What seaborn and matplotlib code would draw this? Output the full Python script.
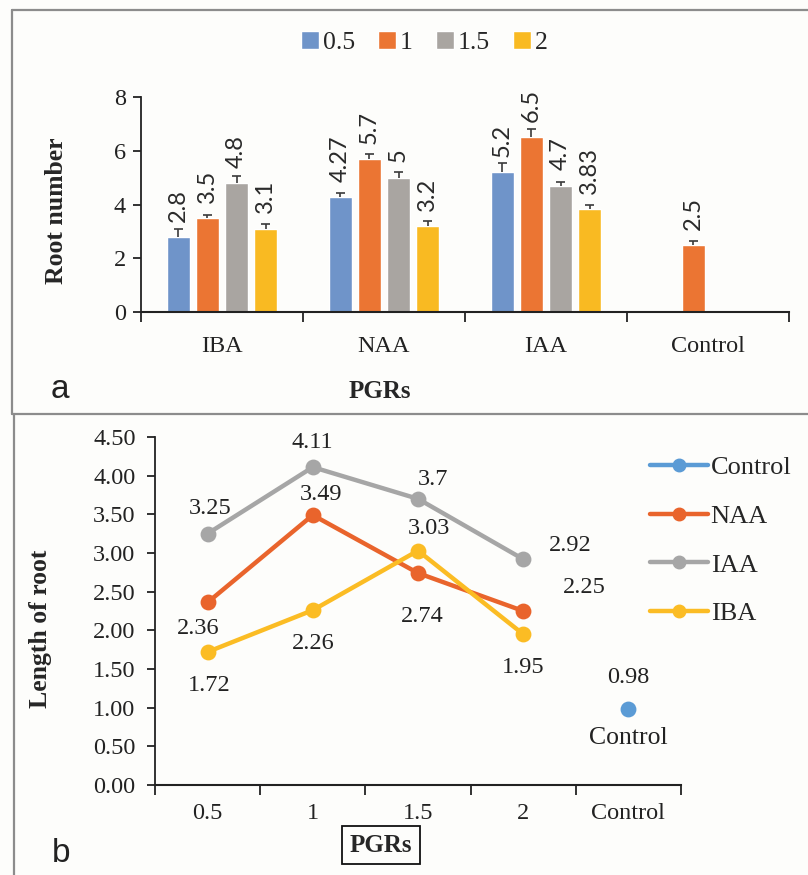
import numpy as np
import pandas as pd
import matplotlib.pyplot as plt
from matplotlib.lines import Line2D
from matplotlib.patches import Patch
import seaborn as sns

# ---- data: panel a (root number) ----
pgrs_a = ["IBA", "NAA", "IAA", "Control"]
conc_levels = ["0.5", "1", "1.5", "2"]
root_iba = [2.8, 3.5, 4.8, 3.1]
root_naa = [4.27, 5.7, 5.0, 3.2]
root_iaa = [5.2, 6.5, 4.7, 3.83]
root_control = [np.nan, 2.5, np.nan, np.nan]
err_iba = [0.3, 0.12, 0.27, 0.18]
err_naa = [0.17, 0.17, 0.22, 0.2]
err_iaa = [0.33, 0.3, 0.12, 0.15]
err_control = [np.nan, 0.13, np.nan, np.nan]

# ---- data: panel b (length of root) ----
conc_b = ["0.5", "1", "1.5", "2", "Control"]
len_naa = [2.36, 3.49, 2.74, 2.25]
len_iaa = [3.25, 4.11, 3.7, 2.92]
len_iba = [1.72, 2.26, 3.03, 1.95]
len_control = [0.98]

bar_colors = ["#6F94C9", "#EB7533", "#A9A5A1", "#F9BA22"]
line_colors = {"Control": "#5B9BD5", "NAA": "#E9642C", "IAA": "#A6A6A6", "IBA": "#FBBC24"}

sns.set_style("ticks")
plt.rcParams["font.family"] = ["Liberation Serif", "DejaVu Serif"]
plt.rcParams["axes.edgecolor"] = "#222222"
plt.rcParams["xtick.color"] = "#222222"
plt.rcParams["ytick.color"] = "#222222"

fig = plt.figure(figsize=(8.08, 8.75), dpi=100)
fig.patch.set_facecolor("#FDFDFB")

# long tables
rows = []
for pgr, vals, errs in zip(pgrs_a, [root_iba, root_naa, root_iaa, root_control],
                           [err_iba, err_naa, err_iaa, err_control]):
    for c, v, e in zip(conc_levels, vals, errs):
        if not np.isnan(v):
            rows.append({"PGR": pgr, "conc": c, "roots": v, "err": e})
df_a = pd.DataFrame(rows)

rows = []
for name, vals in [("NAA", len_naa), ("IAA", len_iaa), ("IBA", len_iba)]:
    for c, v in zip(conc_b[:4], vals):
        rows.append({"series": name, "conc": c, "length": v})
rows.append({"series": "Control", "conc": "Control", "length": len_control[0]})
df_b = pd.DataFrame(rows)

# ================= panel a =================
ax1 = fig.add_axes([0.1745, 0.6434, 0.802, 0.2457])
ax1.set_facecolor("none")
sns.barplot(data=df_a, x="PGR", y="roots", hue="conc", order=pgrs_a,
            hue_order=conc_levels, palette=bar_colors, width=0.72, gap=0.22,
            errorbar=None, legend=False, ax=ax1, saturation=1)

cap = 0.027
for cont, c in zip(ax1.containers, conc_levels):
    sub = df_a[df_a["conc"] == c].copy()
    sub["pos"] = sub["PGR"].map({p: i for i, p in enumerate(pgrs_a)})
    sub = sub.sort_values("pos")
    xs = np.array([b.get_x() + b.get_width() / 2 for b in cont])
    hs = np.array([b.get_height() for b in cont])
    tops = hs + sub["err"].values
    # upper error bars only, as in the original
    ax1.vlines(xs, hs, tops, color="#3A3A3A", lw=1.2, zorder=3)
    ax1.hlines(tops, xs - cap, xs + cap, color="#3A3A3A", lw=1.2, zorder=3)
    ax1.bar_label(cont, labels=[f"{v:g}" for v in sub["roots"]], padding=11,
                  rotation=90, fontsize=17, family="Lato", color="#2A2A2A")

ax1.set_ylim(0, 8)
ax1.set_yticks([0, 2, 4, 6, 8])
ax1.set_xlim(-0.5, 3.5)
ax1.set_xticks(range(4))
ax1.set_xticklabels(pgrs_a)
ax1.set_xticks(np.arange(-0.5, 4.0, 1.0), minor=True)
ax1.tick_params(axis="x", which="major", length=0, pad=17, labelsize=17.5)
ax1.tick_params(axis="x", which="minor", length=7, width=1.3, direction="out")
ax1.tick_params(axis="y", length=6, width=1.3, labelsize=17.5, pad=5)
ax1.set_xlabel("")
ax1.set_ylabel("Root number", fontsize=18.5, fontweight="bold")
ax1.yaxis.set_label_coords(-0.112, 0.47)
for s in ["top", "right"]:
    ax1.spines[s].set_visible(False)
ax1.spines["left"].set_linewidth(1.3)
ax1.spines["bottom"].set_linewidth(1.5)

leg_handles = [Patch(facecolor=col, label=c) for col, c in zip(bar_colors, conc_levels)]
fig.legend(handles=leg_handles, loc="center", bbox_to_anchor=(0.525, 0.951), ncol=4,
           frameon=False, fontsize=18.5, handlelength=0.7, handleheight=0.7,
           handletextpad=0.15, columnspacing=0.9)

fig.text(380 / 808, 1 - 392 / 875, "PGRs", ha="center", va="center",
         fontsize=18, fontweight="bold")
fig.text(60 / 808, 1 - 389 / 875, "a", ha="center", va="center",
         fontsize=24, family="Liberation Sans", color="#222222")

# ================= panel b =================
ax2 = fig.add_axes([0.1918, 0.1029, 0.651, 0.3977])
ax2.set_facecolor("none")
sns.pointplot(data=df_b, x="conc", y="length", hue="series", order=conc_b,
              hue_order=["Control", "NAA", "IAA", "IBA"], palette=line_colors,
              markers="o", linestyles="-", errorbar=None, markersize=9,
              linewidth=3.2, legend=False, ax=ax2)

ax2.set_ylim(0, 4.5)
ax2.set_yticks(np.arange(0, 4.51, 0.5))
ax2.yaxis.set_major_formatter(plt.FormatStrFormatter("%.2f"))
ax2.set_xlim(-0.5, 4.5)
ax2.set_xticks(range(5))
ax2.set_xticklabels(conc_b)
ax2.set_xticks(np.arange(-0.5, 5.0, 1.0), minor=True)
ax2.tick_params(axis="x", which="major", length=0, pad=13, labelsize=17.5)
ax2.tick_params(axis="x", which="minor", length=7, width=1.3, direction="out")
ax2.tick_params(axis="y", length=6, width=1.3, labelsize=17.5, pad=8)
ax2.set_xlabel("")
ax2.set_ylabel("Length of root", fontsize=18.5, fontweight="bold")
ax2.yaxis.set_label_coords(-0.195, 0.45)
for s in ["top", "right"]:
    ax2.spines[s].set_visible(False)
ax2.spines["left"].set_linewidth(1.3)
ax2.spines["bottom"].set_linewidth(1.5)

# data labels (offsets in points)
label_offsets = {
    "IAA": [(2, 18), (0, 18), (11, 14), (34, 10)],
    "NAA": [(-7, -19), (6, 15), (3, -31), (44, 17)],
    "IBA": [(1, -24), (0, -24), (8, 16), (0, -24)],
}
for name, vals in [("IAA", len_iaa), ("NAA", len_naa), ("IBA", len_iba)]:
    for i, (v, off) in enumerate(zip(vals, label_offsets[name])):
        ax2.annotate(f"{v:g}", (i, v), xytext=off, textcoords="offset points",
                     ha="center", va="center", fontsize=17.5, color="#222222")
ax2.annotate(f"{len_control[0]:g}", (4, len_control[0]), xytext=(0, 23),
             textcoords="offset points", ha="center", va="center", fontsize=17.5,
             color="#222222")
ax2.annotate("Control", (4, len_control[0]), xytext=(0, -21),
             textcoords="offset points", ha="center", va="center", fontsize=18.5,
             color="#222222")

line_handles = [Line2D([0], [0], color=line_colors[n], marker="o", lw=3.2, ms=9, label=n)
                for n in ["Control", "NAA", "IAA", "IBA"]]
fig.legend(handles=line_handles, loc="upper left", bbox_to_anchor=(650 / 808, 1 - 456 / 875),
           frameon=False, fontsize=19, handlelength=2.2, handletextpad=0.1,
           labelspacing=0.95, borderpad=0, borderaxespad=0)

fig.text(381 / 808, 1 - 845 / 875, "PGRs", ha="center", va="center", fontsize=18,
         fontweight="bold",
         bbox=dict(boxstyle="square,pad=0.3", facecolor="none", edgecolor="#111111", lw=1.3))
fig.text(61 / 808, 1 - 853 / 875, "b", ha="center", va="center",
         fontsize=24, family="Liberation Sans", color="#222222")

# panel frames
frame = dict(color="#8C8C8C", lw=1.6, transform=fig.transFigure)
fig.add_artist(Line2D([12 / 808, 1.0], [1 - 10 / 875, 1 - 10 / 875], **frame))
fig.add_artist(Line2D([12 / 808, 12 / 808], [1 - 10 / 875, 1 - 414 / 875], **frame))
fig.add_artist(Line2D([12 / 808, 1.0], [1 - 414 / 875, 1 - 414 / 875], **frame))
fig.add_artist(Line2D([14 / 808, 14 / 808], [1 - 414 / 875, 0.0], **frame))

fig.savefig("out.png", dpi=100, facecolor=fig.get_facecolor())
